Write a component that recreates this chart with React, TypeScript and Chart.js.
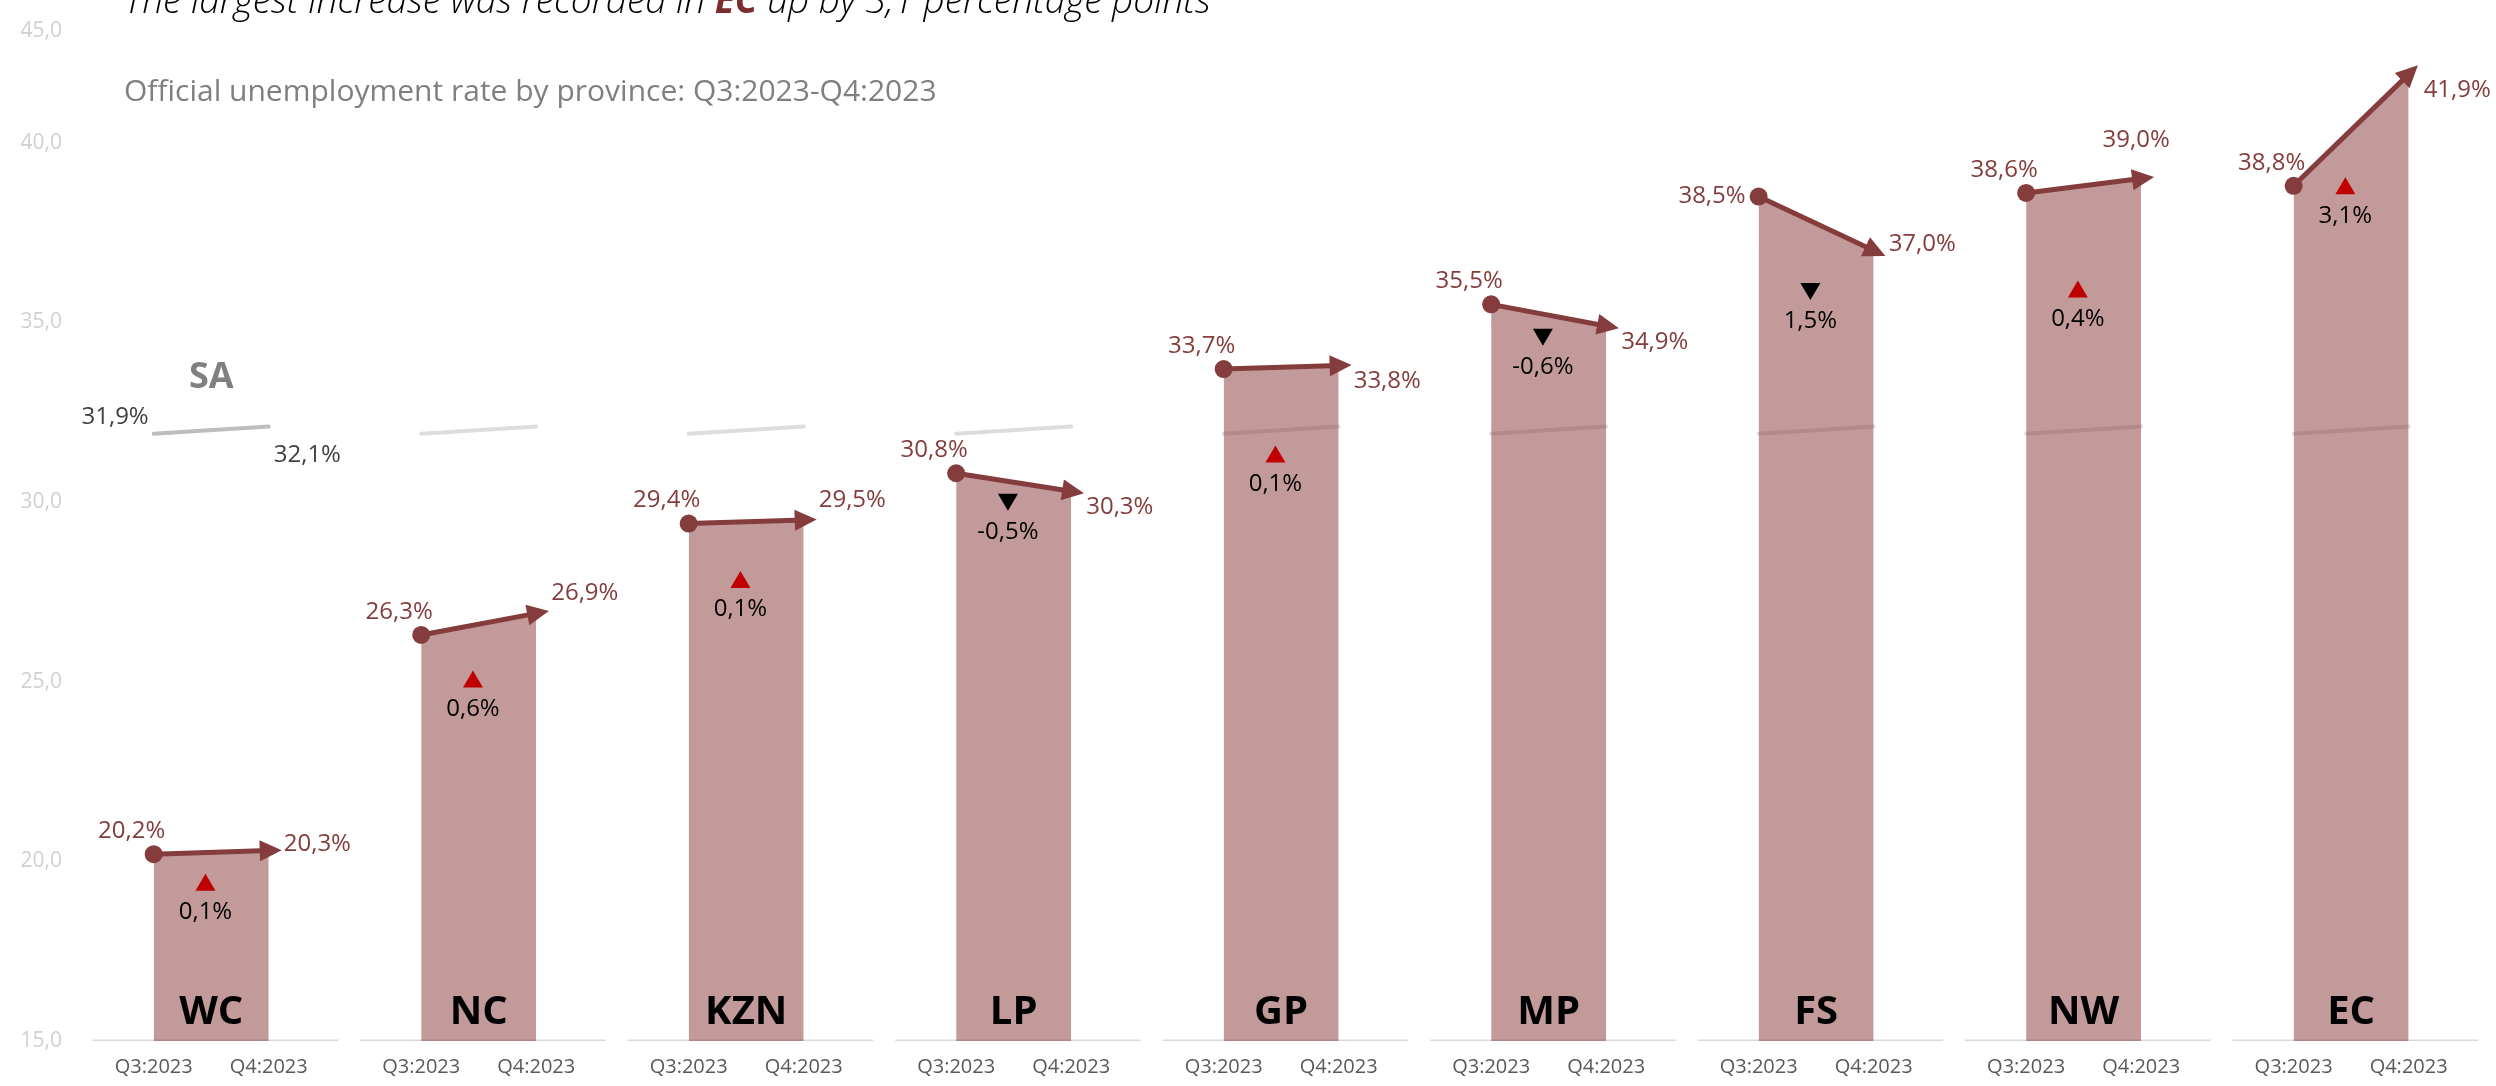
import React, { useEffect, useRef } from 'react';
import { Chart, registerables } from 'chart.js';

Chart.register(...registerables);

// ---------- data ----------
const provinces = ['WC', 'NC', 'KZN', 'LP', 'GP', 'MP', 'FS', 'NW', 'EC'];
const q3Values = [20.2, 26.3, 29.4, 30.8, 33.7, 35.5, 38.5, 38.6, 38.8];
const q4Values = [20.3, 26.9, 29.5, 30.3, 33.8, 34.9, 37.0, 39.0, 41.9];
const changeValues = [0.1, 0.6, 0.1, -0.5, 0.1, -0.6, 1.5, 0.4, 3.1];
const saLabel = 'SA';
const saValues = [31.9, 32.1];
const quarterLabels = ['Q3:2023', 'Q4:2023'];
const yTickValues = [15, 20, 25, 30, 35, 40, 45];
const yTickLabels = ['15,0', '20,0', '25,0', '30,0', '35,0', '40,0', '45,0'];
const subtitleText = 'Official unemployment rate by province: Q3:2023-Q4:2023';

// ---------- style / layout ----------
const FONT = '"Open Sans", "Noto Sans", sans-serif';
const DARK = '#843c3c';
const FILL = 'rgba(137,56,56,0.51)';
const Q4_OFFSET = 0.43;
const X_MIN = -0.3017;
const X_MAX = 8.723;
const Y_MIN = 15;
const Y_MAX = 43.72;
const q3LabelPlacement = ['a', 'a', 'a', 'a', 'a', 'a', 'l', 'a', 'a'];
const q4LabelPlacement = ['r', 'ar', 'ar', 'br', 'br', 'br', 'r', 'a', 'br'];
const changeDropPx = [28, 44, 56, 29, 85, 33, 95, 96, 0];

const fmt = (v: number) => v.toFixed(1).replace('.', ',') + '%';

const labelsPlugin = {
  id: 'customLabels',
  afterDatasetsDraw(chart: any) {
    const { ctx, scales } = chart;
    const x = scales.x;
    const y = scales.y;
    const base = y.getPixelForValue(Y_MIN);
    ctx.save();

    provinces.forEach((p, i) => {
      const x3 = x.getPixelForValue(i);
      const x4 = x.getPixelForValue(i + Q4_OFFSET);
      const y3 = y.getPixelForValue(q3Values[i]);
      const y4 = y.getPixelForValue(q4Values[i]);

      // arrowhead
      const dx = x4 - x3;
      const dy = y4 - y3;
      const len = Math.hypot(dx, dy);
      const ux = dx / len;
      const uy = dy / len;
      const tipX = x4 + ux * 13;
      const tipY = y4 + uy * 13;
      const bX = x4 - ux * 9;
      const bY = y4 - uy * 9;
      const hw = 10.5;
      ctx.fillStyle = DARK;
      ctx.beginPath();
      ctx.moveTo(tipX, tipY);
      ctx.lineTo(bX - uy * hw, bY + ux * hw);
      ctx.lineTo(bX + uy * hw, bY - ux * hw);
      ctx.closePath();
      ctx.fill();

      // value labels
      ctx.font = `24px ${FONT}`;
      ctx.fillStyle = DARK;
      ctx.textBaseline = 'middle';
      if (q3LabelPlacement[i] === 'l') {
        ctx.textAlign = 'right';
        ctx.fillText(fmt(q3Values[i]), x3 - 13, y3);
      } else {
        ctx.textAlign = 'center';
        ctx.fillText(fmt(q3Values[i]), x3 - 22, y3 - 23);
      }
      const pl = q4LabelPlacement[i];
      if (pl === 'a') {
        ctx.textAlign = 'center';
        ctx.fillText(fmt(q4Values[i]), x4 - 5, y4 - 38);
      } else {
        ctx.textAlign = 'left';
        const off = pl === 'r' ? -6 : pl === 'ar' ? -20 : 16;
        ctx.fillText(fmt(q4Values[i]), x4 + 15, y4 + off);
      }

      // change indicator
      const up = q4Values[i] - q3Values[i] >= 0;
      const cx = x3 + 0.45 * (x4 - x3);
      const cy = y3 + changeDropPx[i];
      ctx.fillStyle = up ? '#c00000' : '#000000';
      ctx.beginPath();
      if (up) {
        ctx.moveTo(cx, cy - 8.5);
        ctx.lineTo(cx + 10, cy + 8.5);
        ctx.lineTo(cx - 10, cy + 8.5);
      } else {
        ctx.moveTo(cx, cy + 8.5);
        ctx.lineTo(cx + 10, cy - 8.5);
        ctx.lineTo(cx - 10, cy - 8.5);
      }
      ctx.closePath();
      ctx.fill();
      ctx.fillStyle = '#000000';
      ctx.textAlign = 'center';
      ctx.font = `24px ${FONT}`;
      ctx.fillText(fmt(changeValues[i]), cx, cy + 30);

      // province name
      ctx.font = `bold 40px ${FONT}`;
      ctx.fillStyle = '#000000';
      ctx.fillText(p, (x3 + x4) / 2, base - 28);
    });

    // SA labels
    const sx3 = x.getPixelForValue(0);
    const sx4 = x.getPixelForValue(Q4_OFFSET);
    const sy3 = y.getPixelForValue(saValues[0]);
    const sy4 = y.getPixelForValue(saValues[1]);
    ctx.font = `bold 36px ${FONT}`;
    ctx.fillStyle = '#808080';
    ctx.textAlign = 'center';
    ctx.textBaseline = 'middle';
    ctx.fillText(saLabel, (sx3 + sx4) / 2, (sy3 + sy4) / 2 - 52);
    ctx.font = `24px ${FONT}`;
    ctx.fillStyle = '#404040';
    ctx.textAlign = 'right';
    ctx.fillText(fmt(saValues[0]), sx3 - 5, sy3 - 17);
    ctx.textAlign = 'left';
    ctx.fillText(fmt(saValues[1]), sx4 + 5, sy4 + 29);

    ctx.restore();
  },
};

export default function App() {
  const canvasRef = useRef<HTMLCanvasElement | null>(null);

  useEffect(() => {
    document.body.style.margin = '0';
    document.body.style.overflow = 'hidden';
    const canvas = canvasRef.current;
    if (!canvas) return;

    const datasets: any[] = [];
    provinces.forEach((p, i) => {
      datasets.push({
        type: 'line',
        label: p,
        order: 1,
        data: [
          { x: i, y: q3Values[i] },
          { x: i + Q4_OFFSET, y: q4Values[i] },
        ],
        borderColor: DARK,
        borderWidth: 5,
        backgroundColor: FILL,
        fill: { value: Y_MIN },
        tension: 0,
        pointRadius: (c: any) => (c.dataIndex === 0 ? 9 : 0),
        pointHoverRadius: (c: any) => (c.dataIndex === 0 ? 9 : 0),
        pointBackgroundColor: DARK,
        pointBorderWidth: 0,
      });
    });
    datasets.push({
      type: 'line',
      label: saLabel,
      order: 5,
      data: provinces.flatMap((_, i) => [
        { x: i, y: saValues[0] },
        { x: i + Q4_OFFSET, y: saValues[1] },
        { x: i + 0.7, y: null },
      ]),
      borderWidth: 4,
      borderCapStyle: 'round',
      borderColor: 'rgba(128,128,128,0.27)',
      segment: {
        borderColor: (c: any) =>
          c.p0DataIndex === 0 ? 'rgba(128,128,128,0.52)' : 'rgba(128,128,128,0.27)',
      },
      spanGaps: false,
      fill: false,
      pointRadius: 0,
    });
    datasets.push({
      type: 'line',
      label: 'base',
      order: 6,
      data: provinces.flatMap((_, i) => [
        { x: i - 0.228, y: Y_MIN },
        { x: i + 0.69, y: Y_MIN },
        { x: i + 0.8, y: null },
      ]),
      borderWidth: 3,
      borderColor: '#d9d9d9',
      spanGaps: false,
      fill: false,
      pointRadius: 0,
    });

    const chart = new Chart(canvas, {
      type: 'line',
      data: { datasets },
      options: {
        animation: false,
        responsive: true,
        maintainAspectRatio: false,
        layout: { padding: 0 },
        plugins: {
          legend: { display: false },
          tooltip: { enabled: false },
          title: { display: false },
        },
        events: [],
        scales: {
          x: {
            type: 'linear',
            min: X_MIN,
            max: X_MAX,
            grid: { display: false, drawTicks: false },
            border: { display: false },
            afterBuildTicks: (s: any) => {
              s.ticks = provinces.flatMap((_, i) => [{ value: i }, { value: i + Q4_OFFSET }]);
            },
            ticks: {
              autoSkip: false,
              maxRotation: 0,
              minRotation: 0,
              padding: 14,
              color: '#595959',
              font: { family: FONT, size: 20 },
              callback: (_v: any, i: number) => quarterLabels[i % 2],
            },
            afterFit: (s: any) => {
              s.height = 45;
              s.paddingLeft = 0;
              s.paddingRight = 0;
            },
          },
          y: {
            type: 'linear',
            min: Y_MIN,
            max: Y_MAX,
            grid: { display: false, drawTicks: false },
            border: { display: false },
            afterBuildTicks: (s: any) => {
              s.ticks = yTickValues.map((v) => ({ value: Math.min(v, Y_MAX - 0.6) }));
            },
            ticks: {
              padding: 11,
              color: '#d0d0d0',
              font: { family: FONT, size: 21 },
              callback: (_v: any, i: number) => yTickLabels[i],
            },
            afterFit: (s: any) => {
              s.width = 73;
              s.paddingTop = 0;
              s.paddingBottom = 0;
            },
          },
        },
      },
      plugins: [labelsPlugin],
    } as any);

    return () => chart.destroy();
  }, []);

  const maxIdx = changeValues.indexOf(Math.max(...changeValues));

  return (
    <div style={{ position: 'relative', width: 2496, height: 1086, overflow: 'hidden', background: '#fff' }}>
      <canvas ref={canvasRef} style={{ position: 'absolute', left: 0, top: 0 }} />
      <div
        style={{
          position: 'absolute',
          left: 124,
          top: -20,
          fontFamily: FONT,
          fontStyle: 'italic',
          fontWeight: 300,
          fontSize: 37,
          lineHeight: '37px',
          color: '#000',
          whiteSpace: 'nowrap',
        }}
      >
        The largest increase was recorded in{' '}
        <span style={{ fontWeight: 700, color: '#7b2c2c' }}>{provinces[maxIdx]}</span> up by{' '}
        {changeValues[maxIdx].toFixed(1).replace('.', ',')} percentage points
      </div>
      <div
        style={{
          position: 'absolute',
          left: 124,
          top: 75,
          fontFamily: FONT,
          fontSize: 30,
          lineHeight: '30px',
          color: '#7f7f7f',
          whiteSpace: 'nowrap',
        }}
      >
        {subtitleText}
      </div>
    </div>
  );
}
